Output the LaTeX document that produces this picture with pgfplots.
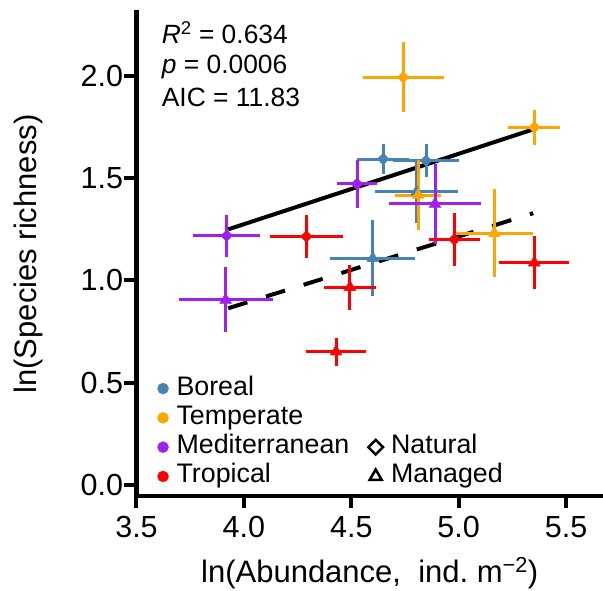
\documentclass[border=0pt]{standalone}
\usepackage{fontspec}
\setmainfont{Liberation Sans}
\usepackage{pgfplots}
\pgfplotsset{compat=1.18}
\definecolor{cBor}{RGB}{70,130,180}
\definecolor{cTem}{RGB}{255,165,0}
\definecolor{cMed}{RGB}{160,32,240}
\definecolor{cTro}{RGB}{255,0,0}
\pgfplotsset{
  nat/.style={forget plot, only marks, mark=square*, mark size=4.1pt, mark options={rotate=45}, color=#1,
    error bars/.cd, x dir=both, x explicit, y dir=both, y explicit, error mark=none,
    error bar style={line width=3pt, color=#1}},
  man/.style={forget plot, only marks, mark=triangle*, mark size=6.8pt, color=#1,
    error bars/.cd, x dir=both, x explicit, y dir=both, y explicit, error mark=none,
    error bar style={line width=3pt, color=#1}},
  onemark/.style={legend image code/.code={\draw[##1] plot coordinates {(0pt,0pt)};}},
}
\begin{document}
\begin{tikzpicture}
\begin{axis}[
  name=ax,
  scale only axis, width=466.5pt, height=484pt,
  xmin=3.5, xmax=5.672, ymin=-0.054, ymax=2.313,
  axis lines=left, axis line style={-, line width=4.5pt, line cap=rect},
  tick align=outside, major tick length=12pt,
  every tick/.style={black, line width=4pt},
  xtick={3.5,4.0,4.5,5.0,5.5}, xticklabels={3.5,4.0,4.5,5.0,5.5},
  ytick={0,0.5,1.0,1.5,2.0}, yticklabels={0.0,0.5,1.0,1.5,2.0},
  tick label style={font=\fontsize{30.5}{32}\selectfont},
  xticklabel style={yshift=-5pt},
  yticklabel style={xshift=2pt},
  xlabel={ln(Abundance,\ \ ind.\ m\textsuperscript{−2})},
  ylabel={ln(Species richness)},
  every axis x label/.style={at={(axis description cs:0.5,-0.1777)}, anchor=base, font=\fontsize{31}{33}\selectfont},
  every axis y label/.style={at={(axis description cs:-0.2154,0.5)}, rotate=90, anchor=base, font=\fontsize{31}{33}\selectfont},
  legend columns=2,
  legend cell align=left,
  legend style={draw=none, fill=none, inner sep=0pt, outer sep=0pt,
    at={(axis cs:3.598,-0.0196)}, anchor=south west,
    font=\fontsize{26.8}{28}\selectfont,
    column sep=8pt, row sep=4.3pt,
    nodes={inner sep=0pt, text height=19pt, text depth=6pt},
    /tikz/every even column/.append style={column sep=19pt}},
]
% regression lines
\addplot[forget plot, black, line width=4pt] coordinates {(3.927,1.250) (5.347,1.739)};
\addplot[forget plot, black, line width=4pt, dash pattern=on 20pt off 19.5pt] coordinates {(3.927,0.864) (5.347,1.329)};
% Boreal
\addplot[nat=cBor] table[x=x,y=y,x error=ex,y error=ey] {
x y ex ey
4.649 1.594 0.121 0.071
4.848 1.586 0.154 0.082
};
\addplot[man=cBor] table[x=x,y=y,x error=ex,y error=ey] {
x y ex ey
4.804 1.434 0.194 0.155
4.600 1.109 0.197 0.185
};
% Temperate
\addplot[nat=cTem] table[x=x,y=y,x error=ex,y error=ey] {
x y ex ey
4.742 1.994 0.189 0.171
5.352 1.749 0.120 0.087
};
\addplot[man=cTem] table[x=x,y=y,x error=ex,y error=ey] {
x y ex ey
4.812 1.418 0.108 0.171
5.166 1.231 0.182 0.216
};
% Mediterranean
\addplot[nat=cMed] table[x=x,y=y,x error=ex,y error=ey] {
x y ex ey
3.920 1.219 0.157 0.102
4.527 1.472 0.093 0.117
};
\addplot[man=cMed] table[x=x,y=y,x error=ex,y error=ey] {
x y ex ey
3.915 0.905 0.219 0.159
4.890 1.374 0.215 0.196
};
% Tropical
\addplot[nat=cTro] table[x=x,y=y,x error=ex,y error=ey] {
x y ex ey
4.291 1.215 0.170 0.103
4.980 1.201 0.120 0.131
};
\addplot[man=cTro] table[x=x,y=y,x error=ex,y error=ey] {
x y ex ey
5.352 1.087 0.164 0.131
4.494 0.967 0.120 0.111
4.429 0.652 0.138 0.069
};
% legend
\addlegendimage{onemark, only marks, mark=*, mark size=5.5pt, cBor}
\addlegendentry{Boreal}
\addlegendimage{empty legend}
\addlegendentry{}
\addlegendimage{onemark, only marks, mark=*, mark size=5.5pt, cTem}
\addlegendentry{Temperate}
\addlegendimage{empty legend}
\addlegendentry{}
\addlegendimage{onemark, only marks, mark=*, mark size=5.5pt, cMed}
\addlegendentry{Mediterranean}
\addlegendimage{onemark, only marks, mark=square, mark size=5.2pt, mark options={rotate=45, line width=2.5pt}, black}
\addlegendentry{Natural}
\addlegendimage{onemark, only marks, mark=*, mark size=5.5pt, cTro}
\addlegendentry{Tropical}
\addlegendimage{onemark, only marks, mark=triangle, mark size=7pt, mark options={line width=2.5pt}, black}
\addlegendentry{Managed}
% statistics
\node[anchor=base west, inner sep=0pt, font=\fontsize{26.4}{28}\selectfont] at (axis cs:3.617,2.160) {\textit{R}\textsuperscript{2} = 0.634};
\node[anchor=base west, inner sep=0pt, font=\fontsize{26.4}{28}\selectfont] at (axis cs:3.617,2.010) {\textit{p} = 0.0006};
\node[anchor=base west, inner sep=0pt, font=\fontsize{26.4}{28}\selectfont] at (axis cs:3.617,1.853) {AIC = 11.83};
\end{axis}
\pgfresetboundingbox
\useasboundingbox ([xshift=-136.5pt,yshift=-95pt]ax.south west) rectangle ([yshift=12pt]ax.north east);
\end{tikzpicture}
\end{document}
